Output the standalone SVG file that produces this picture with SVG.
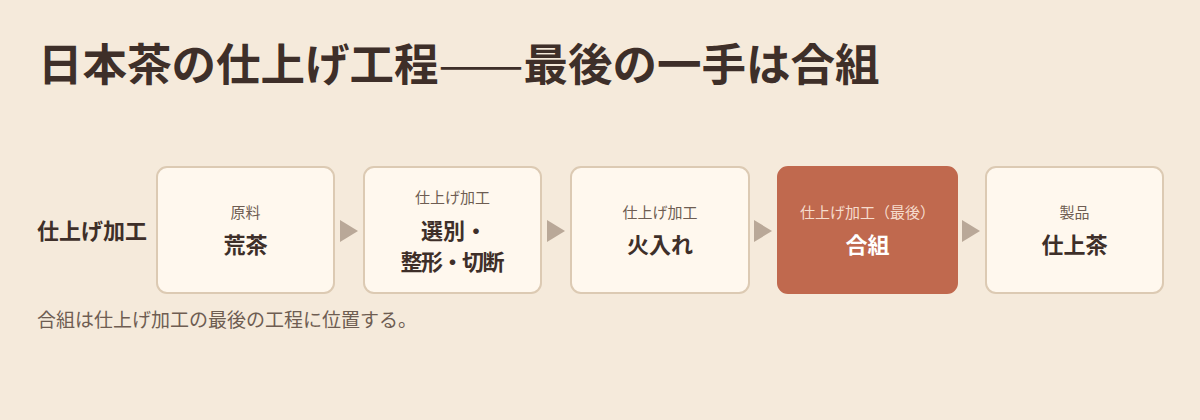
<svg xmlns="http://www.w3.org/2000/svg" width="1200" height="420" viewBox="0 0 1200 420">
<style>
text{font-family:"Noto Sans CJK JP","Noto Sans",sans-serif}
.title{font-size:44.5px;font-weight:700;fill:#3e2f29}
.dash{font-weight:400}
.row{font-size:22px;font-weight:700;fill:#3e2f29}
.cap{font-size:19px;fill:#6e5d52}
.box{fill:#fff8ee;stroke:#dccab3;stroke-width:2}
.hl{fill:#c0694e;stroke:#c0694e;stroke-width:2}
.sub{font-size:15px;fill:#6e5d52;text-anchor:middle}
.main{font-size:22px;font-weight:700;fill:#3e2f29;text-anchor:middle}
.subhl{font-size:15px;fill:#f6dccd;text-anchor:middle}
.mainhl{font-size:22px;font-weight:700;fill:#ffffff;text-anchor:middle}
.arr{fill:#b9a898}
</style>
<rect width="1200" height="420" fill="#f5eadb"/>
<text class="title" x="38" y="81">日本茶の仕上げ工程<tspan class="dash" textLength="85" lengthAdjust="spacingAndGlyphs">——</tspan><tspan>最後の一手は合組</tspan></text>
<text class="row" x="37" y="239">仕上げ加工</text>
<g id="connectors">
<polygon class="arr" points="340,220 358,231 340,242"/>
<polygon class="arr" points="547,220 565,231 547,242"/>
<polygon class="arr" points="754,220 772,231 754,242"/>
<polygon class="arr" points="962,220 980,231 962,242"/>
</g>
<g id="n1">
<rect class="box" x="157" y="167" width="177" height="126" rx="10"/>
<text class="sub" x="245.5" y="218">原料</text>
<text class="main" x="245.5" y="253">荒茶</text>
</g>
<g id="n2">
<rect class="box" x="364" y="167" width="177" height="126" rx="10"/>
<text class="sub" x="452.5" y="203">仕上げ加工</text>
<text class="main" x="454" y="239">選別・</text>
<text class="main" x="452.5" y="270" textLength="104" lengthAdjust="spacing">整形・切断</text>
</g>
<g id="n3">
<rect class="box" x="571" y="167" width="178" height="126" rx="10"/>
<text class="sub" x="660" y="218">仕上げ加工</text>
<text class="main" x="660" y="253">火入れ</text>
</g>
<g id="n4">
<rect class="hl" x="778" y="167" width="179" height="126" rx="10"/>
<text class="subhl" x="867.5" y="218">仕上げ加工（最後）</text>
<text class="mainhl" x="867.5" y="253">合組</text>
</g>
<g id="n5">
<rect class="box" x="986" y="167" width="177" height="126" rx="10"/>
<text class="sub" x="1074.5" y="218">製品</text>
<text class="main" x="1074.5" y="253">仕上茶</text>
</g>
<text class="cap" x="37" y="327">合組は仕上げ加工の最後の工程に位置する。</text>
</svg>
